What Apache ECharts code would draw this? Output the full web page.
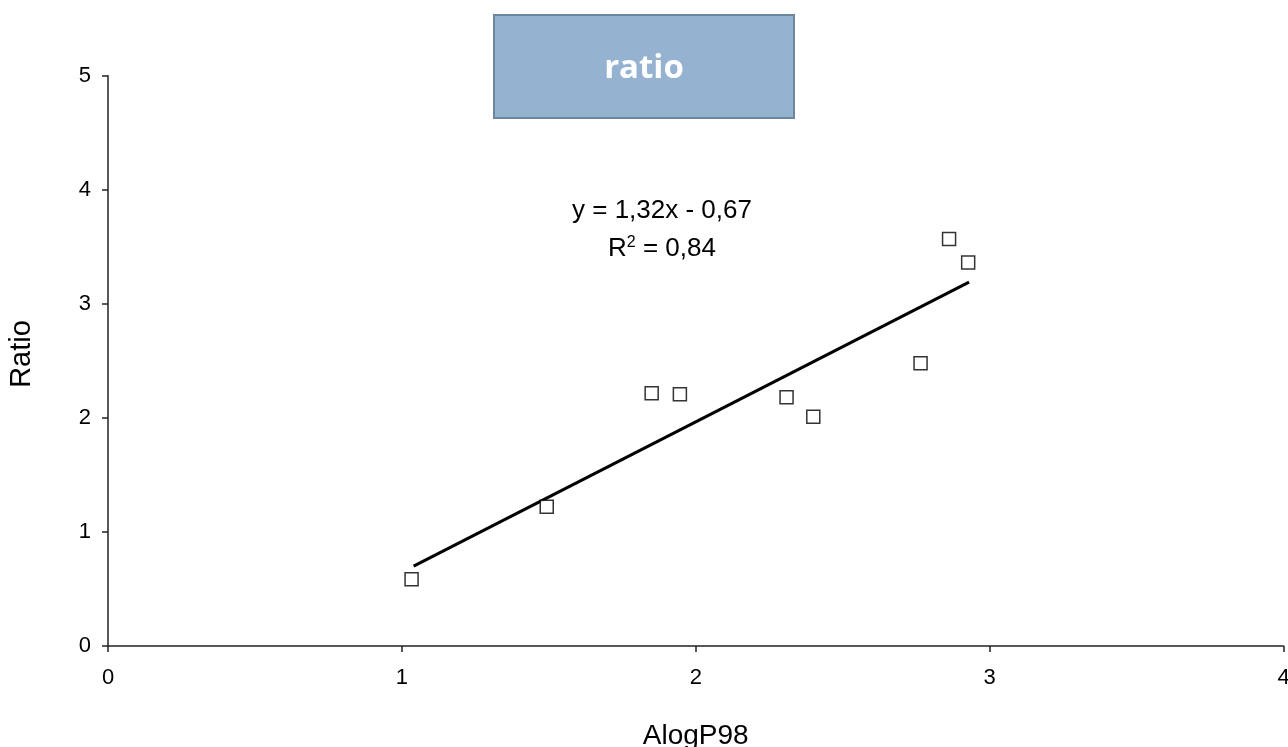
<!DOCTYPE html>
<html>
<head>
<meta charset="utf-8">
<script src="https://cdn.jsdelivr.net/npm/echarts@6/dist/echarts.min.js"></script>
<style>html,body{margin:0;padding:0;background:#fff}#c{width:1288px;height:747px}</style>
</head>
<body>
<div id="c"></div>
<script>
var alogP = [1.033, 1.493, 1.850, 1.946, 2.309, 2.400, 2.765, 2.862, 2.927];
var ratio = [0.585, 1.221, 2.215, 2.207, 2.181, 2.011, 2.479, 3.568, 3.363];
var trendX = [1.04, 2.93];
var trendY = [0.70, 3.19];
var xTicks = [0, 1, 2, 3, 4];
var yTicks = [0, 1, 2, 3, 4, 5];

var chart = echarts.init(document.getElementById('c'));
var pts = alogP.map(function (x, i) { return [x, ratio[i]]; });
var trend = trendX.map(function (x, i) { return [x, trendY[i]]; });
var font = '"Liberation Sans", Arial, sans-serif';
chart.setOption({
  animation: false,
  grid: { left: 108, right: 4.5, top: 75.7, bottom: 101, containLabel: false, outerBoundsMode: 'none' },
  xAxis: {
    type: 'value', min: xTicks[0], max: xTicks[xTicks.length - 1], interval: 1,
    name: 'AlogP98', nameLocation: 'middle', nameGap: 76,
    nameTextStyle: { fontFamily: font, fontSize: 28, color: '#000' },
    axisLine: { show: true, lineStyle: { color: '#222', width: 1.5 } },
    axisTick: { show: true, length: 6, lineStyle: { color: '#222', width: 1.5 } },
    axisLabel: { fontFamily: font, fontSize: 22, color: '#000', margin: 21 },
    splitLine: { show: false }
  },
  yAxis: {
    type: 'value', min: yTicks[0], max: yTicks[yTicks.length - 1], interval: 1,
    name: '',
    axisLine: { show: true, lineStyle: { color: '#222', width: 1.5 } },
    axisTick: { show: true, length: 6, lineStyle: { color: '#222', width: 1.5 } },
    axisLabel: { fontFamily: font, fontSize: 22, color: '#000', margin: 17 },
    splitLine: { show: false }
  },
  series: [
    {
      type: 'line', data: trend, symbol: 'none', silent: true,
      lineStyle: { color: '#000', width: 3 }, z: 2
    },
    {
      type: 'scatter', data: pts, symbol: 'rect', symbolSize: 13,
      itemStyle: { color: '#fff', borderColor: '#000', borderWidth: 1.5 }, z: 3
    }
  ],
  graphic: [
    {
      type: 'text', x: 22, y: 354, rotation: Math.PI / 2,
      style: { text: 'Ratio', fill: '#000', font: '29px "Liberation Sans", Arial, sans-serif', align: 'center', verticalAlign: 'middle' }
    },
    {
      type: 'rect', shape: { x: 494, y: 15, width: 300, height: 103 },
      style: { fill: '#95b3d0', stroke: '#6d86a0', lineWidth: 2 }
    },
    {
      type: 'text', x: 644, y: 69,
      style: { text: 'ratio', fill: '#fff', font: 'bold 33px "Open Sans", sans-serif', align: 'center', verticalAlign: 'middle' }
    },
    {
      type: 'text', x: 662, y: 211,
      style: { text: 'y = 1,32x - 0,67', fill: '#000', font: '26px "Liberation Sans", Arial, sans-serif', align: 'center', verticalAlign: 'middle' }
    },
    {
      type: 'text', x: 662, y: 249,
      style: {
        text: '{n|R}{s|2}{n| = 0,84}', align: 'center', verticalAlign: 'middle',
        rich: {
          n: { fill: '#000', fontSize: 26, fontFamily: font },
          s: { fill: '#000', fontSize: 16, fontFamily: font, verticalAlign: 'top', padding: [0, 0, 12, 0] }
        }
      }
    }
  ]
});
</script>
</body>
</html>
